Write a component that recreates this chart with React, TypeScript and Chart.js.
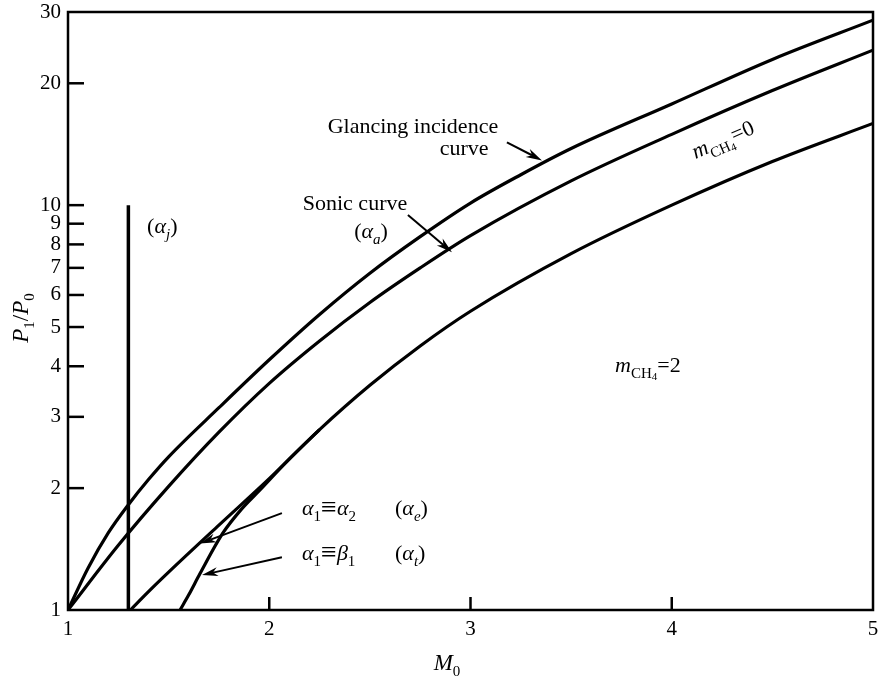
import React, { useEffect, useRef } from "react";
import { Chart, registerables } from "chart.js";

Chart.register(...registerables);

// ---------- data ----------
const X_TICKS = [1, 2, 3, 4, 5];
const Y_TICKS = [1, 2, 3, 4, 5, 6, 7, 8, 9, 10, 20, 30];
const X_TICK_MARKS = [2, 3, 4];
const Y_TICK_MARKS = [2, 3, 4, 5, 6, 7, 8, 9, 10, 20];

// glancing incidence curve
const M_GLANCING = [1.0, 1.1, 1.2, 1.3, 1.4, 1.5, 1.75, 2.0, 2.25, 2.5, 2.75, 3.0, 3.25, 3.5, 4.0, 4.5, 5.0];
const GLANCING = [1.0, 1.27, 1.55, 1.82, 2.1, 2.39, 3.16, 4.15, 5.37, 6.79, 8.36, 10.12, 11.89, 13.8, 17.78, 22.91, 28.64];

// sonic curve (alpha_a)
const M_SONIC = [1.0, 1.25, 1.5, 1.75, 2.0, 2.25, 2.5, 2.75, 3.0, 3.5, 4.0, 4.5, 5.0];
const SONIC = [1.0, 1.445, 2.02, 2.75, 3.63, 4.62, 5.75, 7.0, 8.41, 11.48, 14.96, 19.19, 24.15];

// alpha_1 = alpha_2 (alpha_e)
const M_E = [1.31, 1.4, 1.5, 1.75, 2.0, 2.25, 2.5, 2.75, 3.0, 3.5, 4.0, 4.5, 5.0];
const ALPHA_E = [1.0, 1.11, 1.24, 1.62, 2.11, 2.79, 3.59, 4.49, 5.47, 7.59, 10.0, 12.82, 15.92];

// alpha_1 = beta_1 (alpha_t)
const M_T = [1.557, 1.6, 1.656, 1.77, 1.86, 1.954, 2.088, 2.25];
const ALPHA_T = [1.0, 1.09, 1.23, 1.55, 1.77, 1.98, 2.33, 2.79];

// alpha_j
const M_J = [1.3, 1.3];
const ALPHA_J = [1.0, 10.0];

// annotation arrows (data coordinates: [M0, P1/P0])
const ARROW_FROM = [[3.181, 14.3], [2.689, 9.45], [2.063, 1.735], [2.063, 1.35]];
const ARROW_TO = [[3.355, 12.9], [2.908, 7.65], [1.656, 1.46], [1.666, 1.22]];

const FONT = "'Liberation Serif', 'Times New Roman', 'DejaVu Serif', serif";

type Part = { t: string; it?: boolean; sub?: boolean; ss?: boolean; big?: boolean };

function pts(xs: number[], ys: number[]) {
  return xs.map((x, i) => ({ x, y: ys[i] }));
}

function drawRich(
  ctx: CanvasRenderingContext2D,
  parts: Part[],
  x: number,
  y: number,
  size: number,
  align: "left" | "center"
) {
  const sizeOf = (p: Part) => (p.ss ? size * 0.5 : p.sub ? size * 0.66 : p.big ? size * 1.25 : size);
  const fontOf = (p: Part) => `${p.it ? "italic " : ""}${Math.round(sizeOf(p))}px ${FONT}`;
  const dyOf = (p: Part) => (p.ss ? size * 0.36 : p.sub ? size * 0.28 : p.big ? size * 0.05 : 0);
  let w = 0;
  for (const p of parts) {
    ctx.font = fontOf(p);
    w += ctx.measureText(p.t).width;
  }
  let cx = align === "center" ? x - w / 2 : x;
  ctx.textAlign = "left";
  ctx.textBaseline = "alphabetic";
  for (const p of parts) {
    ctx.font = fontOf(p);
    ctx.fillText(p.t, cx, y + dyOf(p));
    cx += ctx.measureText(p.t).width;
  }
}

const decorPlugin = {
  id: "decor",
  afterDatasetsDraw(chart: any) {
    const ctx: CanvasRenderingContext2D = chart.ctx;
    const { left, right, top, bottom } = chart.chartArea;
    const xs = chart.scales.x;
    const ys = chart.scales.y;
    const px = (v: number) => xs.getPixelForValue(v);
    const py = (v: number) => ys.getPixelForValue(v);
    ctx.save();
    ctx.strokeStyle = "#000";
    ctx.fillStyle = "#000";
    ctx.lineCap = "butt";

    // frame
    ctx.lineWidth = 2.5;
    ctx.strokeRect(left, top, right - left, bottom - top);

    // inward tick marks
    ctx.lineWidth = 2.5;
    for (const v of Y_TICK_MARKS) {
      const y = py(v);
      ctx.beginPath();
      ctx.moveTo(left, y);
      ctx.lineTo(left + 16, y);
      ctx.stroke();
    }
    for (const v of X_TICK_MARKS) {
      const x = px(v);
      ctx.beginPath();
      ctx.moveTo(x, bottom);
      ctx.lineTo(x, bottom - 13);
      ctx.stroke();
    }

    // arrows
    for (let i = 0; i < ARROW_FROM.length; i++) {
      const x1 = px(ARROW_FROM[i][0]);
      const y1 = py(ARROW_FROM[i][1]);
      const x2 = px(ARROW_TO[i][0]);
      const y2 = py(ARROW_TO[i][1]);
      const a = Math.atan2(y2 - y1, x2 - x1);
      const L = 16;
      const H = 4.5;
      ctx.lineWidth = 2;
      ctx.beginPath();
      ctx.moveTo(x1, y1);
      ctx.lineTo(x2 - Math.cos(a) * L * 0.7, y2 - Math.sin(a) * L * 0.7);
      ctx.stroke();
      ctx.beginPath();
      ctx.moveTo(x2, y2);
      ctx.lineTo(x2 - Math.cos(a) * L - Math.sin(a) * H, y2 - Math.sin(a) * L + Math.cos(a) * H);
      ctx.lineTo(x2 - Math.cos(a) * L * 0.7, y2 - Math.sin(a) * L * 0.7);
      ctx.lineTo(x2 - Math.cos(a) * L + Math.sin(a) * H, y2 - Math.sin(a) * L - Math.cos(a) * H);
      ctx.closePath();
      ctx.fill();
    }

    // labels
    const S = 22;
    drawRich(ctx, [{ t: "Glancing incidence" }], px(2.714), py(15.1), S, "center");
    drawRich(ctx, [{ t: "curve" }], px(2.968), py(13.3), S, "center");
    drawRich(ctx, [{ t: "Sonic curve" }], px(2.426), py(9.72), S, "center");
    drawRich(ctx, [{ t: "(" }, { t: "α", it: true }, { t: "a", it: true, sub: true }, { t: ")" }], px(2.506), py(8.29), S, "center");
    drawRich(ctx, [{ t: "(" }, { t: "α", it: true }, { t: "j", it: true, sub: true }, { t: ")" }], px(1.393), py(8.53), S, "left");
    drawRich(ctx, [{ t: "α", it: true }, { t: "1", sub: true }, { t: "≡", big: true }, { t: "α", it: true }, { t: "2", sub: true }], px(2.163), py(1.717), S, "left");
    drawRich(ctx, [{ t: "(" }, { t: "α", it: true }, { t: "e", it: true, sub: true }, { t: ")" }], px(2.625), py(1.717), S, "left");
    drawRich(ctx, [{ t: "α", it: true }, { t: "1", sub: true }, { t: "≡", big: true }, { t: "β", it: true }, { t: "1", sub: true }], px(2.163), py(1.329), S, "left");
    drawRich(ctx, [{ t: "(" }, { t: "α", it: true }, { t: "t", it: true, sub: true }, { t: ")" }], px(2.625), py(1.329), S, "left");
    drawRich(ctx, [{ t: "m", it: true }, { t: "CH", sub: true }, { t: "4", ss: true }, { t: "=2" }], px(3.718), py(3.87), S, "left");

    ctx.save();
    ctx.translate(px(4.255), py(14.5));
    ctx.rotate((-23.5 * Math.PI) / 180);
    drawRich(ctx, [{ t: "m", it: true }, { t: "CH", sub: true }, { t: "4", ss: true }, { t: "=0" }], 0, S * 0.3, S, "center");
    ctx.restore();

    // axis titles
    drawRich(ctx, [{ t: "M", it: true }, { t: "0", sub: true }], 447, 670, 23, "center");
    ctx.save();
    ctx.translate(28, 318);
    ctx.rotate(-Math.PI / 2);
    drawRich(ctx, [{ t: "P", it: true }, { t: "1", sub: true }, { t: "/" }, { t: "P", it: true }, { t: "0", sub: true }], 0, 0, 23, "center");
    ctx.restore();

    ctx.restore();
  },
};

export default function App() {
  const ref = useRef<HTMLCanvasElement>(null);
  useEffect(() => {
    const line = (xs: number[], ys: number[], smooth = true, width = 3.2) => ({
      data: pts(xs, ys),
      borderColor: "#000",
      backgroundColor: "#000",
      borderWidth: width,
      pointRadius: 0,
      fill: false,
      tension: smooth ? 0.4 : 0,
      cubicInterpolationMode: smooth ? ("monotone" as const) : ("default" as const),
    });
    const chart = new Chart(ref.current!, {
      type: "line",
      data: {
        datasets: [
          line(M_GLANCING, GLANCING),
          line(M_SONIC, SONIC),
          line(M_E, ALPHA_E),
          line(M_T, ALPHA_T),
          line(M_J, ALPHA_J, false, 3.5),
        ] as any,
      },
      options: {
        responsive: false,
        animation: false,
        events: [],
        layout: { padding: { top: 12, right: 6, left: 0, bottom: 0 } },
        plugins: { legend: { display: false }, tooltip: { enabled: false } },
        scales: {
          x: {
            type: "linear",
            min: 1,
            max: 5,
            grid: { display: false, drawTicks: false },
            border: { display: false },
            afterBuildTicks: (s: any) => {
              s.ticks = X_TICKS.map((v) => ({ value: v }));
            },
            afterFit: (s: any) => {
              s.height = 71;
              s.paddingLeft = 0;
              s.paddingRight = 0;
            },
            ticks: {
              color: "#000",
              padding: 9,
              autoSkip: false,
              maxRotation: 0,
              font: { family: FONT, size: 21, lineHeight: 1 },
              callback: (v: any) => String(v),
            },
          },
          y: {
            type: "logarithmic",
            min: 1,
            max: 30,
            grid: { display: false, drawTicks: false },
            border: { display: false },
            afterBuildTicks: (s: any) => {
              s.ticks = Y_TICKS.map((v) => ({ value: v }));
            },
            afterFit: (s: any) => {
              s.width = 68;
              s.paddingTop = 0;
              s.paddingBottom = 0;
            },
            ticks: {
              color: "#000",
              padding: 7,
              autoSkip: false,
              font: { family: FONT, size: 21, lineHeight: 1 },
              callback: (v: any) => String(v),
            },
          },
        },
      },
      plugins: [decorPlugin],
    });
    return () => chart.destroy();
  }, []);
  return (
    <div style={{ position: "absolute", left: 0, top: 0, width: 879, height: 681, background: "#fff" }}>
      <canvas ref={ref} width={879} height={681} style={{ display: "block", width: 879, height: 681 }} />
    </div>
  );
}
